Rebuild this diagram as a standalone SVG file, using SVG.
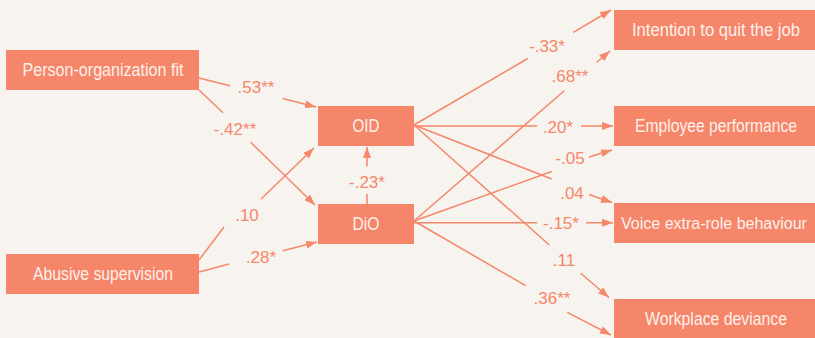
<svg xmlns="http://www.w3.org/2000/svg" width="815" height="338" viewBox="0 0 815 338">
<defs>
<marker id="ah" markerWidth="11" markerHeight="8" refX="11" refY="4" orient="auto" markerUnits="userSpaceOnUse">
<path d="M0,0 L11,4 L0,8 Z" fill="#f5876a"/>
</marker>
<style>
.box{fill:#f5866a}
.nt{font-family:"Liberation Sans",Arial,sans-serif;font-size:17.5px;fill:#fdf1ea;text-anchor:middle}
.lb{font-family:"Liberation Sans",Arial,sans-serif;font-size:17px;fill:#f5876a;text-anchor:middle}
.cn{fill:none;stroke:#f5876a;stroke-width:1.5;marker-end:url(#ah)}
</style>
</defs>
<rect width="815" height="338" fill="#f7f3ee"/>

<g id="connectors">
<path class="cn" d="M199,78 L230,85.7 M282.7,98.5 L316,107"/>
<path class="cn" d="M199,90 L223,112.7 M250.7,142.3 L315,205"/>
<path class="cn" d="M199,260 L224,227 M261,199 L314,148"/>
<path class="cn" d="M199,272 L229,264 M282.7,250.7 L317,242"/>
<path class="cn" d="M367,204 L367,194 M367,166.5 L367,147"/>
<path class="cn" d="M414,125 L527.7,58.5 M573.3,32.3 L611,10"/>
<path class="cn" d="M414,221 L564.3,90.7 M596.7,62.3 L610,51"/>
<path class="cn" d="M414,126 L537.3,126 M581,126 L613,126"/>
<path class="cn" d="M414,221 L551.7,171.5 M589,157 L612,150"/>
<path class="cn" d="M414,125 L551.7,179 M589,194.5 L612,202.5"/>
<path class="cn" d="M414,222.7 L537.3,222.7 M586,222.7 L613,222.7"/>
<path class="cn" d="M414,125 L549.3,245 M580.7,273.3 L609,297.5"/>
<path class="cn" d="M414,221 L525.7,285.7 M567.3,312.3 L611,335"/>
</g>

<g id="labels">
<text class="lb" x="256" y="93">.53**</text>
<text class="lb" x="235" y="135">-.42**</text>
<text class="lb" x="247" y="221">.10</text>
<text class="lb" x="261" y="263">.28*</text>
<text class="lb" x="367" y="188">-.23*</text>
<text class="lb" x="547" y="52">-.33*</text>
<text class="lb" x="570" y="82">.68**</text>
<text class="lb" x="558" y="133">.20*</text>
<text class="lb" x="570" y="164">-.05</text>
<text class="lb" x="572" y="199">.04</text>
<text class="lb" x="561" y="229">-.15*</text>
<text class="lb" x="564" y="266">.11</text>
<text class="lb" x="552" y="304">.36**</text>
</g>

<g id="node-pof"><rect class="box" x="6" y="50" width="193" height="40"/><text class="nt" x="103" y="76" textLength="161" lengthAdjust="spacingAndGlyphs">Person-organization fit</text></g>
<g id="node-abuse"><rect class="box" x="6" y="254" width="193" height="40"/><text class="nt" x="103" y="280" textLength="140" lengthAdjust="spacingAndGlyphs">Abusive supervision</text></g>
<g id="node-oid"><rect class="box" x="318" y="106" width="96" height="40"/><text class="nt" x="366" y="132" textLength="27" lengthAdjust="spacingAndGlyphs">OID</text></g>
<g id="node-dio"><rect class="box" x="318" y="204" width="96" height="40"/><text class="nt" x="366" y="230" textLength="27" lengthAdjust="spacingAndGlyphs">DiO</text></g>
<g id="node-quit"><rect class="box" x="614" y="10" width="201" height="40"/><text class="nt" x="716" y="36" textLength="168" lengthAdjust="spacingAndGlyphs">Intention to quit the job</text></g>
<g id="node-perf"><rect class="box" x="614" y="106" width="201" height="40"/><text class="nt" x="716" y="132" textLength="162" lengthAdjust="spacingAndGlyphs">Employee performance</text></g>
<g id="node-voice"><rect class="box" x="614" y="203" width="201" height="40"/><text class="nt" x="714" y="229" style="font-size:16px">Voice extra-role behaviour</text></g>
<g id="node-dev"><rect class="box" x="614" y="299" width="201" height="39"/><text class="nt" x="716" y="325" textLength="142" lengthAdjust="spacingAndGlyphs">Workplace deviance</text></g>
</svg>
